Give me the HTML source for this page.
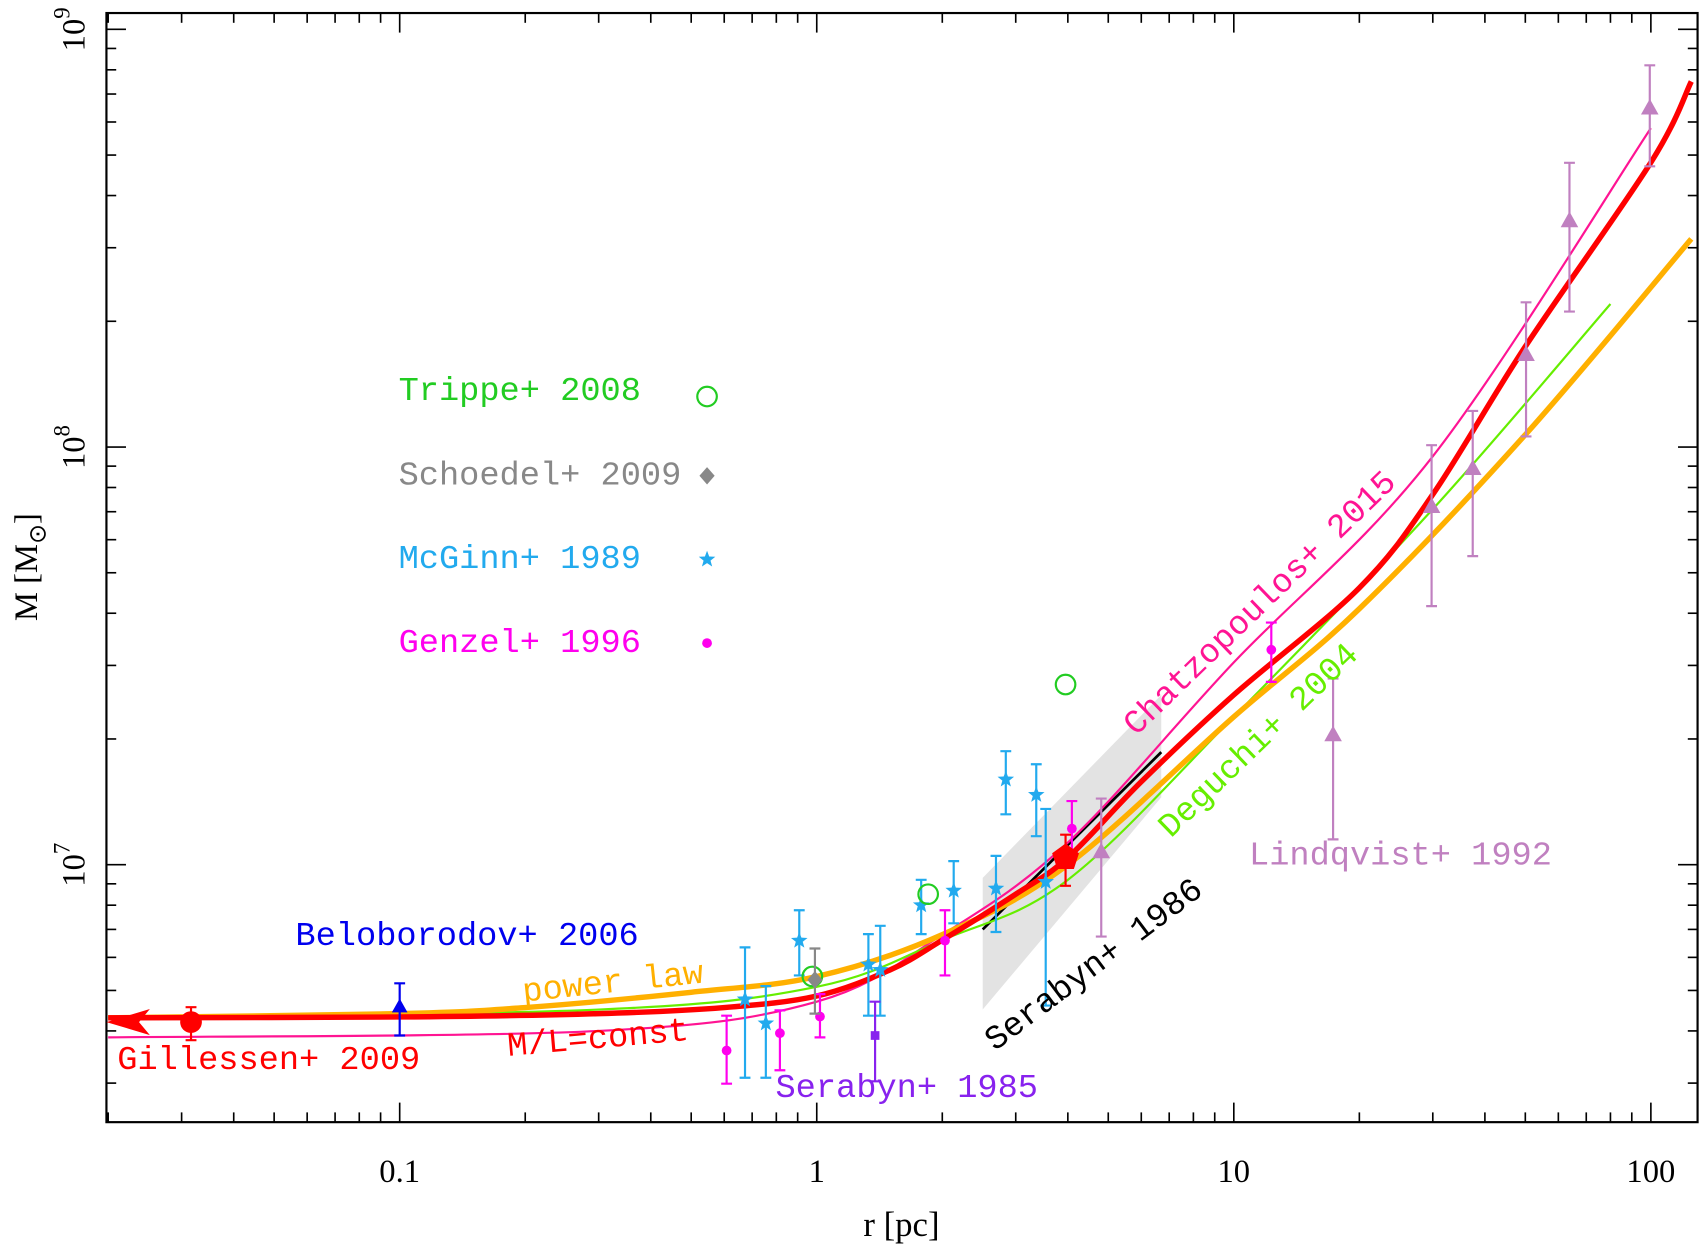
<!DOCTYPE html>
<html><head><meta charset="utf-8">
<style>
html,body{margin:0;padding:0;background:#fff;}
svg text{font-family:"Liberation Serif",serif;}
.lab{font-family:"Liberation Mono","DejaVu Sans Mono",monospace;font-size:31px;}
</style></head>
<body>
<svg id="chart" width="1703" height="1246" viewBox="0 0 1568 1147" preserveAspectRatio="none" xmlns="http://www.w3.org/2000/svg">
<g id="grid"></g><g id="marks"></g><g id="labels"></g>
</svg>
<script>
// ---- data ----
const redCurveR=[0.02,0.1,0.3,0.6,1,1.5,2,3,4,6,10,20,30,50,100,125];
const redCurveM=[4.3e6,4.32e6,4.4e6,4.55e6,4.85e6,5.6e6,6.6e6,8.5e6,1.04e7,1.58e7,2.55e7,4.6e7,7.7e7,1.74e8,4.8e8,7.5e8];
const powR=[0.02,0.1,0.2,0.5,1,2,4,10,20,50,125];
const powM=[4.3e6,4.4e6,4.55e6,4.95e6,5.4e6,6.8e6,1.0e7,2.26e7,4.1e7,1.07e8,3.15e8];
const chatR=[0.02,0.3,1,2,4,10,30,100];
const chatM=[3.86e6,4.0e6,4.7e6,6.8e6,1.13e7,3.05e7,9.5e7,5.8e8];
const degR=[0.02,0.3,1,2,4,10,30,80];
const degM=[4.3e6,4.5e6,5.1e6,6.6e6,9.2e6,2.26e7,7.1e7,2.2e8];
const mcginnR=[0.673,0.755,0.908,1.33,1.42,1.78,2.13,2.69,2.84,3.36,3.54];
const mcginnM=[4.76e6,4.17e6,6.58e6,5.77e6,5.6e6,8.0e6,8.67e6,8.77e6,1.6e7,1.47e7,9.1e6];
const mcginnHi=[6.34e6,5.12e6,7.78e6,6.82e6,7.14e6,9.2e6,1.02e7,1.05e7,1.87e7,1.74e7,1.36e7];
const mcginnLo=[3.09e6,3.09e6,5.43e6,4.35e6,4.35e6,6.82e6,7.24e6,6.9e6,1.32e7,1.17e7,4.6e6];
const genzelR=[0.608,0.816,1.018,2.03,4.09,12.3];
const genzelM=[3.59e6,3.95e6,4.33e6,6.58e6,1.22e7,3.27e7];
const genzelHi=[4.35e6,4.48e6,4.9e6,7.78e6,1.42e7,3.8e7];
const genzelLo=[2.99e6,3.22e6,3.86e6,5.43e6,1.04e7,2.74e7];
const lindR=[4.81,17.3,29.8,37.4,50.2,63.8,99.4];
const lindM=[1.07e7,2.04e7,7.18e7,8.85e7,1.66e8,3.47e8,6.46e8];
const lindHi=[1.44e7,2.79e7,1.01e8,1.22e8,2.22e8,4.79e8,8.2e8];
const lindLo=[6.73e6,1.15e7,4.16e7,5.48e7,1.06e8,2.11e8,4.7e8];
const trippeR=[0.976,1.85,3.95];
const trippeM=[5.4e6,8.5e6,2.7e7];
const xTicks=[0.1,1,10,100];
const xTickLabels=["0.1","1","10","100"];
const yTicks=[1e7,1e8,1e9];
const yTickExp=["7","8","9"];
// ---- axes ----
const L=98,R=1563,T=12,B=1033;
const X=r=>752+384*Math.log10(r);
const Y=m=>796-384.5*(Math.log10(m)-7);
const NS="http://www.w3.org/2000/svg";
function mk(tag,attrs,parent){const e=document.createElementNS(NS,tag);for(const k in attrs)e.setAttribute(k,attrs[k]);(parent||document.getElementById('marks')).appendChild(e);return e;}
const grid=document.getElementById('grid'),labs=document.getElementById('labels');
const fr=mk('rect',{x:L,y:T,width:R-L,height:B-T,fill:'none',stroke:'#000','stroke-width':2},grid);

for(let d=-2;d<=2;d++)for(let k=1;k<10;k++){const v=k*Math.pow(10,d);const x=X(v);if(x<L||x>R)continue;const len=k==1?18:9;
 const t1=mk('line',{x1:x,x2:x,y1:B,y2:B-len,stroke:'#000','stroke-width':1.5},grid);
 const t2=mk('line',{x1:x,x2:x,y1:T,y2:T+len,stroke:'#000','stroke-width':1.5},grid);}
for(let d=6;d<=9;d++)for(let k=1;k<10;k++){const v=k*Math.pow(10,d);const y=Y(v);if(y<T||y>B)continue;const len=k==1?18:9;
 const t1=mk('line',{x1:L,x2:L+len,y1:y,y2:y,stroke:'#000','stroke-width':1.5},grid);
 const t2=mk('line',{x1:R,x2:R-len,y1:y,y2:y,stroke:'#000','stroke-width':1.5},grid);}
xTicks.forEach((v,i)=>{const t=mk('text',{x:X(v),y:1088,'font-size':30,'text-anchor':'middle'},labs);t.textContent=xTickLabels[i];
 });
yTicks.forEach((v,i)=>{const y=Y(v);const t=mk('text',{x:0,y:0,'font-size':30,'text-anchor':'middle',transform:`translate(78,${y}) rotate(-90)`},labs);
 t.innerHTML=`10<tspan dy="-14" font-size="21">${yTickExp[i]}</tspan>`;
 });
const xt=mk('text',{x:830,y:1138,'font-size':32,'text-anchor':'middle'},labs);xt.textContent='r [pc]';

const yt=mk('text',{x:0,y:0,'font-size':30,'text-anchor':'middle',transform:'translate(34,522) rotate(-90)'},labs);
yt.innerHTML='M [M<tspan dy="8" font-size="22">⊙</tspan><tspan dy="-8">]</tspan>';

const defs=mk('defs',{},grid);const cp=mk('clipPath',{id:'clip'},defs);mk('rect',{x:L,y:T,width:R-L,height:B-T},cp);
const bandR=[2.5,6.7],bandLo=[4.5e6,1.45e7],bandHi=[9.3e6,2.55e7];
const band=mk('polygon',{points:`${X(bandR[0])},${Y(bandHi[0])} ${X(bandR[1])},${Y(bandHi[1])} ${X(bandR[1])},${Y(bandLo[1])} ${X(bandR[0])},${Y(bandLo[0])}`,fill:'#e3e3e3'});

const serR=[2.5,6.7],serM=[7.0e6,1.86e7];
const sl=mk('line',{x1:X(serR[0]),y1:Y(serM[0]),x2:X(serR[1]),y2:Y(serM[1]),stroke:'#000','stroke-width':2.5});

function curve(rs,ms,color,w,name){const pts=rs.map((r,i)=>[X(r),Y(ms[i])]);let d=`M${pts[0][0]},${pts[0][1]}`;
 for(let i=0;i<pts.length-1;i++){const p0=pts[Math.max(0,i-1)],p1=pts[i],p2=pts[i+1],p3=pts[Math.min(pts.length-1,i+2)];
  d+=` C${p1[0]+(p2[0]-p0[0])/6},${p1[1]+(p2[1]-p0[1])/6} ${p2[0]-(p3[0]-p1[0])/6},${p2[1]-(p3[1]-p1[1])/6} ${p2[0]},${p2[1]}`;}
 const p=mk('path',{d,fill:'none',stroke:color,'stroke-width':w,'clip-path':'url(#clip)'});}
curve(chatR,chatM,'#ff1493',2,'chatzopoulos-curve');
curve(degR,degM,'#66ee00',2,'deguchi-curve');
curve(powR,powM,'#ffb000',5,'power-law-curve');
curve(redCurveR,redCurveM,'#ff0000',5,'ml-const-curve');
function err(r,lo,hi,color){const x=X(r);const g=mk('path',{d:`M${x},${Y(lo)}V${Y(hi)}M${x-5},${Y(hi)}H${x+5}M${x-5},${Y(lo)}H${x+5}`,stroke:color,'stroke-width':2,fill:'none'});
 }
function star(x,y,s,c){let p=[];for(let i=0;i<10;i++){const a=-Math.PI/2+i*Math.PI/5,rr=i%2?s*0.42:s;p.push(`${x+rr*Math.cos(a)},${y+rr*Math.sin(a)}`);}
 const e=mk('polygon',{points:p.join(' '),fill:c});return e;}
function tri(x,y,s,c,name){const e=mk('polygon',{points:`${x},${y-s} ${x+s*0.9},${y+s*0.6} ${x-s*0.9},${y+s*0.6}`,fill:c});}
mcginnR.forEach((r,i)=>{err(r,mcginnLo[i],mcginnHi[i],'#22aaee');star(X(r),Y(mcginnM[i]),8,'#22aaee');});
genzelR.forEach((r,i)=>{err(r,genzelLo[i],genzelHi[i],'#ff00ee');const c=mk('circle',{cx:X(r),cy:Y(genzelM[i]),r:4.5,fill:'#ff00ee'});
 });
lindR.forEach((r,i)=>{err(r,lindLo[i],lindHi[i],'#c080c0');tri(X(r),Y(lindM[i]),9,'#c080c0','lindqvist-point');});
trippeR.forEach((r,i)=>{const c=mk('circle',{cx:X(r),cy:Y(trippeM[i]),r:9,fill:'none',stroke:'#22cc22','stroke-width':2});
 });
err(0.99,4.4e6,6.3e6,'#888');const dm=mk('polygon',{points:`${X(0.99)},${Y(5.3e6)-8} ${X(0.99)+7},${Y(5.3e6)} ${X(0.99)},${Y(5.3e6)+8} ${X(0.99)-7},${Y(5.3e6)}`,fill:'#888'});

err(0.1,3.9e6,5.2e6,'#0000ee');tri(X(0.1),Y(4.56e6),8,'#0000ee','beloborodov-point');
err(1.38,3.03e6,4.7e6,'#8822ee');const sq=mk('rect',{x:X(1.38)-4,y:Y(3.9e6)-4,width:8,height:8,fill:'#8822ee'});

err(0.0316,3.8e6,4.56e6,'#ff0000');const gc=mk('circle',{cx:X(0.0316),cy:Y(4.2e6),r:10,fill:'#ff0000'});

const ar=mk('path',{d:`M${L},${Y(4.2e6)} l40,-12 l-10,12 l10,12 z`,fill:'#ff0000'});
err(3.95,8.9e6,1.18e7,'#ff0000');{const x=X(3.95),y=Y(1.04e7);let p=[];for(let i=0;i<5;i++){const a=-Math.PI/2+i*2*Math.PI/5;p.push(`${x+13*Math.cos(a)},${y+13*Math.sin(a)}`);}
 const pg=mk('polygon',{points:p.join(' '),fill:'#ff0000'});}
function lab(txt,x,y,c,name,rot){const t=mk('text',{x,y,fill:c,class:'lab'},labs);if(rot)t.setAttribute('transform',`rotate(${rot} ${x} ${y})`);t.textContent=txt;
 }
lab('Trippe+ 2008',367,368,'#22cc22','legend-trippe');
lab('Schoedel+ 2009',367,446,'#888','legend-schoedel');
lab('McGinn+ 1989',367,523,'#22aaee','legend-mcginn');
lab('Genzel+ 1996',367,600,'#ff00ee','legend-genzel');
{const c=mk('circle',{cx:651,cy:365,r:9,fill:'none',stroke:'#22cc22','stroke-width':2});}
{const d=mk('polygon',{points:'651,430 658,438 651,446 644,438',fill:'#888'});}
star(651,515,8,'#22aaee');
{const c=mk('circle',{cx:651,cy:592,r:4.5,fill:'#ff00ee'});}
lab('Beloborodov+ 2006',272,870,'#0000ee','label-beloborodov');
lab('Gillessen+ 2009',108,984,'#ff0000','label-gillessen');
lab('M/L=const',468,972,'#ff0000','label-ml-const',-5);
lab('power law',482,922,'#ffb000','label-power-law',-6);
lab('Serabyn+ 1985',714,1010,'#8822ee','label-serabyn-1985');
lab('Serabyn+ 1986',916,968,'#000','label-serabyn-1986',-37);
lab('Lindqvist+ 1992',1150,796,'#c080c0','label-lindqvist');
lab('Chatzopoulos+ 2015',1046,678,'#ff1493','label-chatzopoulos',-44);
lab('Deguchi+ 2004',1078,772,'#66ee00','label-deguchi',-44);
</script>
</body></html>
